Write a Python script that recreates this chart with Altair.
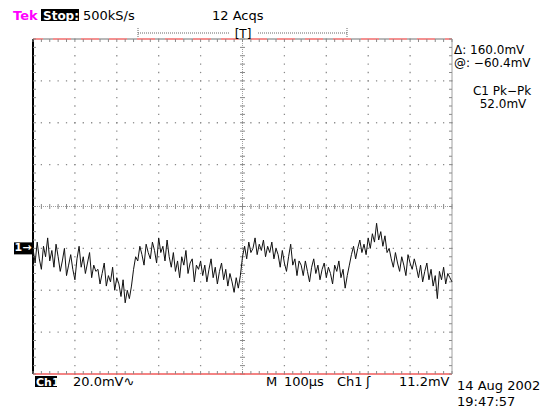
import altair as alt
import pandas as pd

# ---------------- data ----------------
sample_step_us = 5          # horizontal sample spacing, microseconds
time_per_div_us = 100       # M 100us
mv_per_div = 20             # Ch1 20.0mV
n_div_x = 10
n_div_y = 8
ground_mv = -20             # channel 1 marker level

trace_mv = [
    -20, -27, -17, -25, -30, -19, -24, -15, -26, -21, -29, -18,
    -24, -31, -26, -20, -33, -28, -23, -30, -35, -25, -19, -29, -24, -32, -27, -22, -34, -28, -31,
    -30, -37, -32, -27, -38, -33, -36, -29, -40, -34,
    -37, -43, -35, -46, -40, -44,
    -38, -30, -24,
    -26, -19, -23, -28, -18, -22, -25, -17, -21, -27, -15, -22, -19, -26, -16, -24,
    -29, -22, -31, -26, -34, -24, -28, -21, -32, -27, -25, -36, -28, -30,
    -26, -33, -28, -36, -30, -25, -34, -29, -37, -31, -27, -35, -30, -38, -32, -36, -41, -34, -39,
    -33, -24,
    -19, -25, -17, -22, -20, -15, -23, -18, -21, -16, -24, -19, -22, -17, -25, -20,
    -23, -29, -21, -27, -31, -24, -18, -28, -25, -33, -26,
    -28, -33, -26, -31, -36, -29, -25, -32, -28, -35, -30, -27, -34, -29, -32, -37, -28, -31, -26, -34, -30, -39, -33,
    -28, -23, -19, -25, -20, -16, -22, -18, -23,
    -15, -20, -13, -17, -8, -16, -12, -19, -14, -22,
    -20, -25, -29, -22, -27, -31, -24, -28, -33, -23, -27, -30, -25,
    -29, -34, -28, -36, -31, -27, -35, -30, -38, -33, -44, -31, -35, -29, -37, -32, -34, -36,
]

top_left_labels = ["Tek", "Stop:", "500kS/s", "12 Acqs", "[T]"]
right_labels = ["\u0394: 160.0mV", "@: \u221260.4mV", "C1 Pk\u2212Pk", "52.0mV"]
bottom_labels = ["Ch1", "20.0mV\u223f", "M", "100\u00b5s", "Ch1", "\u0283", "11.2mV"]
date_labels = ["14 Aug 2002", "19:47:57"]

# ---------------- derived tables ----------------
t_max = time_per_div_us * n_div_x
v_half = mv_per_div * n_div_y / 2
trace_df = pd.DataFrame({"t": [i * sample_step_us for i in range(len(trace_mv))], "mv": trace_mv})

minor_t = [time_per_div_us / 5 * j for j in range(n_div_x * 5 + 1)]
minor_v = [-v_half + mv_per_div / 5 * j for j in range(n_div_y * 5 + 1)]
major_t = [time_per_div_us * k for k in range(1, n_div_x) if k != n_div_x // 2]
major_v = [-v_half + mv_per_div * k for k in range(1, n_div_y) if k != n_div_y // 2]
dots = [(tt, vv) for tt in major_t for vv in minor_v] + [(tt, vv) for vv in major_v for tt in minor_t]
dots_df = pd.DataFrame(dots, columns=["t", "mv"])
mt_df = pd.DataFrame({"t": minor_t})
mv_df = pd.DataFrame({"mv": minor_v})
one = alt.Data(values=[{"a": 1}])

W, H = 419, 335
L, T = 33, 39
FONT = "DejaVu Sans"
xs = alt.Scale(domain=[0, t_max], nice=False, zero=False)
ys = alt.Scale(domain=[-v_half, v_half], nice=False, zero=False)
X = lambda f: alt.X(f, scale=xs, axis=None)
Y = lambda f: alt.Y(f, scale=ys, axis=None)
GRID = "#8a8a8a"


def label(text, ax, ay, color="black", size=13, weight="normal", align="left", baseline="alphabetic"):
    return alt.Chart(one).mark_text(
        text=text, align=align, baseline=baseline, font=FONT, fontSize=size,
        fontWeight=weight, color=color,
    ).encode(x=alt.value(ax - L), y=alt.value(ay - T))


def box(x1, x2, y1, y2, color="black"):
    return alt.Chart(one).mark_rect(color=color).encode(
        x=alt.value(x1 - L), x2=alt.value(x2 - L), y=alt.value(y1 - T), y2=alt.value(y2 - T))


layers = []

# grid dots
layers.append(alt.Chart(dots_df).mark_square(size=1.6, color=GRID, opacity=1).encode(x=X("t:Q"), y=Y("mv:Q")))

# center cross
layers.append(alt.Chart(one).mark_rule(color="#a0a0a0", strokeDash=[1, 1]).encode(
    x=alt.datum(0), x2=alt.datum(t_max), y=alt.datum(0)))
layers.append(alt.Chart(one).mark_rule(color="#a0a0a0", strokeDash=[1, 1]).encode(
    y=alt.datum(-v_half), y2=alt.datum(v_half), x=alt.datum(t_max / 2)))
layers.append(alt.Chart(mt_df).mark_rule(color=GRID, yOffset=-2.5, y2Offset=2.5).encode(
    x=X("t:Q"), y=alt.datum(0), y2=alt.datum(0)))
layers.append(alt.Chart(mv_df).mark_rule(color=GRID, xOffset=-2.5, x2Offset=2.5).encode(
    y=Y("mv:Q"), x=alt.datum(t_max / 2), x2=alt.datum(t_max / 2)))

# border
layers.append(alt.Chart(one).mark_rule(color="#a0a0a0", strokeWidth=1.5).encode(
    x=alt.datum(0), x2=alt.datum(t_max), y=alt.datum(v_half)))
layers.append(alt.Chart(one).mark_rule(color="#f49090", strokeWidth=2, strokeDash=[18, 10], strokeDashOffset=-20).encode(
    x=alt.datum(0), x2=alt.datum(t_max), y=alt.datum(v_half)))
layers.append(alt.Chart(one).mark_rule(color="#f05a5a", strokeWidth=1.5).encode(
    x=alt.datum(0), x2=alt.datum(t_max), y=alt.datum(-v_half)))
layers.append(alt.Chart(one).mark_rule(color="#a0a0a0", strokeWidth=1).encode(
    y=alt.datum(-v_half), y2=alt.datum(v_half), x=alt.datum(t_max)))
layers.append(alt.Chart(one).mark_rule(color="black", strokeWidth=2).encode(
    y=alt.datum(-v_half), y2=alt.datum(v_half), x=alt.datum(0)))

# edge ticks
layers.append(alt.Chart(mv_df).mark_rule(color=GRID, x2Offset=3).encode(
    y=Y("mv:Q"), x=alt.datum(0), x2=alt.datum(0)))
layers.append(alt.Chart(mv_df).mark_rule(color=GRID, x2Offset=-3).encode(
    y=Y("mv:Q"), x=alt.datum(t_max), x2=alt.datum(t_max)))
layers.append(alt.Chart(mt_df).mark_rule(color=GRID, y2Offset=3).encode(
    x=X("t:Q"), y=alt.datum(v_half), y2=alt.datum(v_half)))
layers.append(alt.Chart(mt_df).mark_rule(color=GRID, y2Offset=-3).encode(
    x=X("t:Q"), y=alt.datum(-v_half), y2=alt.datum(-v_half)))

# waveform
layers.append(alt.Chart(trace_df).mark_line(color="#111111", strokeWidth=1).encode(x=X("t:Q"), y=Y("mv:Q")))

# ground marker "1->"
layers.append(alt.Chart(one).mark_rect(color="black", yOffset=-6, y2Offset=6).encode(
    x=alt.value(14 - L), x2=alt.value(32 - L), y=alt.datum(ground_mv), y2=alt.datum(ground_mv)))
layers.append(alt.Chart(one).mark_text(text="1\u2192", align="center", baseline="middle", font=FONT,
                                       fontSize=11, fontWeight="bold", color="white").encode(
    x=alt.value(23 - L), y=alt.datum(ground_mv)))

# top status line
layers.append(label(top_left_labels[0], 13, 20, color="#ff00ff", weight="bold"))
layers.append(box(41, 79, 9, 21))
layers.append(label(top_left_labels[1], 43, 19.5, color="white", size=12, weight="bold"))
layers.append(label(top_left_labels[2], 83, 20))
layers.append(label(top_left_labels[3], 212, 20))
layers.append(alt.Chart(one).mark_rule(color="#666", strokeDash=[1, 1]).encode(
    x=alt.value(138 - L), x2=alt.value(347 - L), y=alt.value(33 - T)))
layers.append(alt.Chart(one).mark_rule(color="#666", strokeDash=[1, 1]).encode(
    x=alt.value(138 - L), y=alt.value(28 - T), y2=alt.value(38 - T)))
layers.append(alt.Chart(one).mark_rule(color="#666", strokeDash=[1, 1]).encode(
    x=alt.value(347 - L), y=alt.value(28 - T), y2=alt.value(38 - T)))
layers.append(box(229, 257, 27, 38, color="white"))
layers.append(label(top_left_labels[4], 243, 37.5, size=12, align="center"))

# right readouts
layers.append(label(right_labels[0], 454, 54, size=12))
layers.append(label(right_labels[1], 454, 67, size=12))
layers.append(label(right_labels[2], 502, 95, size=12, align="center"))
layers.append(label(right_labels[3], 503, 108, size=12, align="center"))

# bottom line
layers.append(box(35, 57, 376, 387))
layers.append(label(bottom_labels[0], 36, 385.5, color="white", size=11, weight="bold"))
layers.append(label(bottom_labels[1], 73, 385.5))
layers.append(label(bottom_labels[2], 266, 385.5))
layers.append(label(bottom_labels[3], 284, 385.5))
layers.append(label(bottom_labels[4], 337, 385.5))
layers.append(label(bottom_labels[5], 366, 385.5))
layers.append(label(bottom_labels[6], 399, 385.5))
layers.append(label(date_labels[0], 457, 390))
layers.append(label(date_labels[1], 457, 406))

chart = alt.layer(*layers).properties(
    width=W, height=H,
    padding={"left": L, "top": T, "right": 551 - L - W, "bottom": 410 - T - H},
    autosize=alt.AutoSizeParams(type="none"),
    background="white",
).configure_view(stroke="transparent").configure_axis(disable=True)

chart.save("out.html", embed_options={"renderer": "svg", "actions": False})
